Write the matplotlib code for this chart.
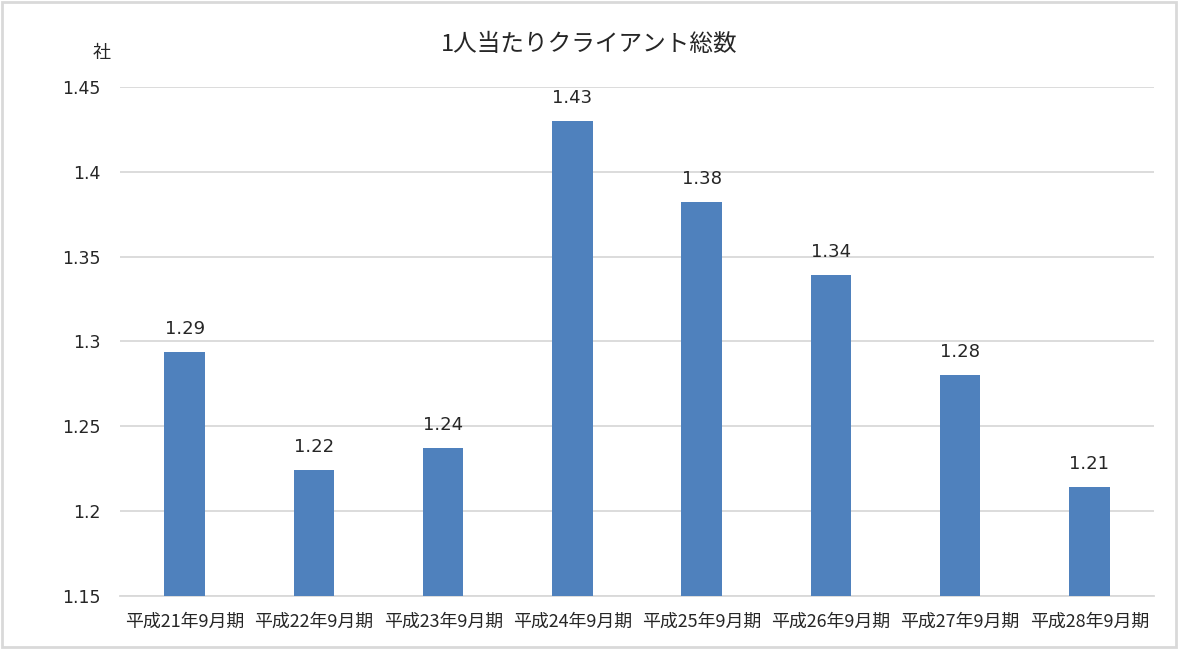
import matplotlib.pyplot as plt
from matplotlib.patches import Rectangle

plt.rcParams["font.family"] = ["Noto Sans CJK JP", "DejaVu Sans"]

categories = ["平成21年9月期", "平成22年9月期", "平成23年9月期", "平成24年9月期",
              "平成25年9月期", "平成26年9月期", "平成27年9月期", "平成28年9月期"]
values = [1.294, 1.224, 1.237, 1.430, 1.382, 1.339, 1.280, 1.214]
yticks = [1.15, 1.2, 1.25, 1.3, 1.35, 1.4, 1.45]
ytick_labels = ["1.15", "1.2", "1.25", "1.3", "1.35", "1.4", "1.45"]

bar_color = "#4f81bd"
grid_color = "#d9d9d9"
text_color = "#262626"

fig = plt.figure(figsize=(11.78, 6.49), dpi=100)
ax = fig.add_axes([0.1019, 0.0817, 0.8777, 0.7843])

x = range(len(categories))
ax.bar(x, values, width=0.315, color=bar_color, zorder=3)

for xi, v in zip(x, values):
    ax.annotate(f"{v:.2f}", (xi, v), xytext=(0, 13), textcoords="offset points",
                ha="center", va="baseline", fontsize=13, color=text_color,
                family="DejaVu Sans")

ax.set_xlim(-0.5, len(categories) - 0.5)
ax.set_ylim(1.15, 1.45)
ax.set_yticks(yticks)
ax.set_yticklabels(ytick_labels, fontsize=12.5, color=text_color, family="DejaVu Sans")
ax.set_xticks(list(x))
ax.set_xticklabels(categories, fontsize=12.9, color=text_color)
ax.tick_params(axis="both", length=0)
ax.tick_params(axis="y", pad=14)
ax.tick_params(axis="x", pad=12)

ax.grid(axis="y", color=grid_color, linewidth=1.3, zorder=0)
for s in ["top", "right", "left"]:
    ax.spines[s].set_visible(False)
ax.spines["bottom"].set_color(grid_color)
ax.spines["bottom"].set_linewidth(1.3)

fig.text(0.5, 0.932, "1人当たりクライアント総数", ha="center", va="center",
         fontsize=17, color=text_color)
fig.text(0.0866, 0.918, "社", ha="center", va="center", fontsize=13, color=text_color)

# outer border
fig.patches.append(Rectangle((0.002, 0.003), 0.996, 0.994, transform=fig.transFigure,
                             fill=False, edgecolor=grid_color, linewidth=2))

fig.savefig("out.png", dpi=100)
